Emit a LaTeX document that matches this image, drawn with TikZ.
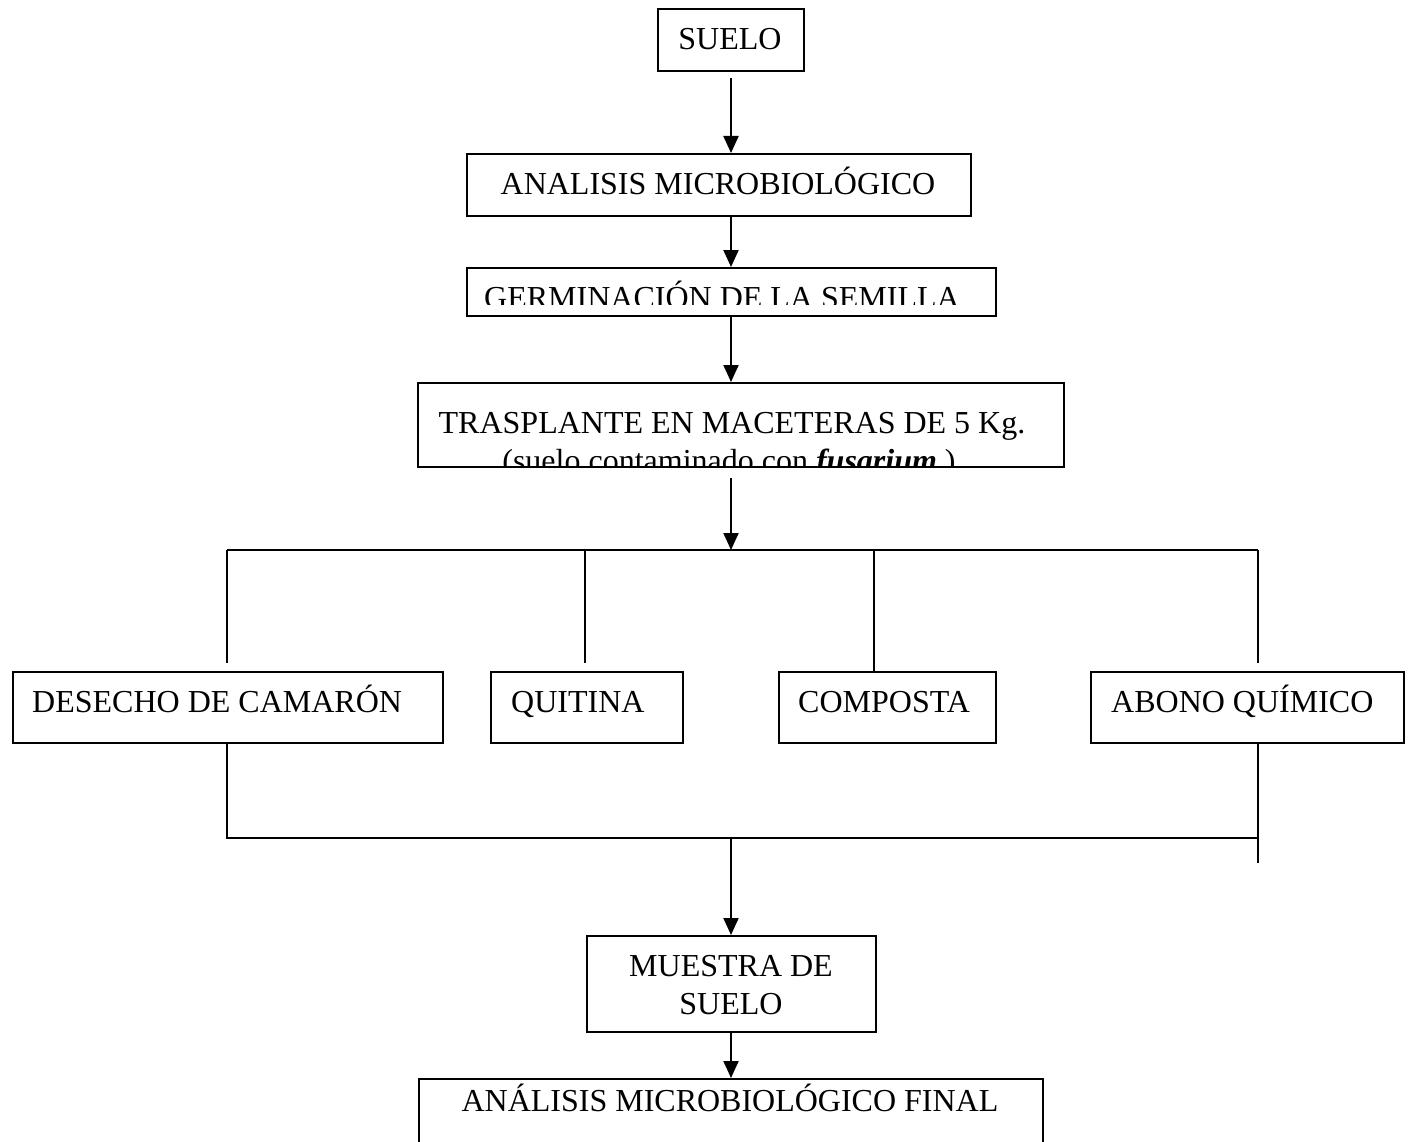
\documentclass[tikz,border=0pt]{standalone}
\usepackage{fontspec}
\setmainfont{Liberation Serif}
\usetikzlibrary{arrows.meta}
\begin{document}
\begin{tikzpicture}[x=1pt,y=-1pt,
  box/.style={draw, line width=2pt, inner sep=0pt, anchor=north west},
  lbl/.style={inner sep=0pt, anchor=base, font=\fontsize{32}{37}\selectfont},
  lblw/.style={lbl, anchor=base west},
  ln/.style={line width=2pt},
  arr/.style={ln, -{Triangle[length=17pt,width=15pt]}}]
\useasboundingbox (0,0) rectangle (1410,1142);
\fill[white] (0,0) rectangle (1410,1142);
\clip (0,0) rectangle (1410,1142);
% boxes
\node[box, minimum width=146pt, minimum height=62pt] (suelo) at (657,8) {};
\node[box, minimum width=504pt, minimum height=62pt] (analisis) at (466,153) {};
\node[box, minimum width=529pt, minimum height=48pt] (germ) at (466,267) {};
\node[box, minimum width=646pt, minimum height=84pt] (trasp) at (417,382) {};
\node[box, minimum width=430pt, minimum height=71pt] (desecho) at (12,671) {};
\node[box, minimum width=192pt, minimum height=71pt] (quitina) at (490,671) {};
\node[box, minimum width=217pt, minimum height=71pt] (composta) at (778,671) {};
\node[box, minimum width=313pt, minimum height=71pt] (abono) at (1090,671) {};
\node[box, minimum width=289pt, minimum height=96pt] (muestra) at (586,935) {};
\node[box, minimum width=624pt, minimum height=90pt] (final) at (418,1078) {};
% texts
\node[lbl] (t-suelo) at (730,50) {SUELO};
\node[lbl] (t-analisis) at (718,195) {ANALISIS MICROBIOLÓGICO};
\begin{scope}
\clip (466,267) rectangle (995,304);
\node[lbl] (t-germ) at (722,308) {GERMINACIÓN DE LA SEMILLA};
\end{scope}
\node[lbl] (t-trasp1) at (732,433) {TRASPLANTE EN MACETERAS DE 5 Kg.};
\begin{scope}
\clip (417,382) rectangle (1063,465);
\node[lbl] (t-trasp2) at (729,471) {(suelo contaminado con \textbf{\textit{fusarium}} )};
\end{scope}
\node[lblw] (t-desecho) at (32,712) {DESECHO DE CAMARÓN};
\node[lblw] (t-quitina) at (511,712) {QUITINA};
\node[lblw] (t-composta) at (798,712) {COMPOSTA};
\node[lblw] (t-abono) at (1111,712) {ABONO QUÍMICO};
\node[lbl] (t-muestra1) at (731,976) {MUESTRA DE};
\node[lbl] (t-muestra2) at (731,1014) {SUELO};
\node[lbl] (t-final) at (730,1111) {ANÁLISIS MICROBIOLÓGICO FINAL};
% connector coordinates
\coordinate (a1) at (731,78);
\coordinate (a4) at (731,478);
\coordinate (bl) at (227,550);
\coordinate (bq) at (585,550);
\coordinate (bc) at (874,550);
\coordinate (br) at (1258,550);
\coordinate (bm) at (731,550);
\coordinate (el) at (227,663);
\coordinate (eq) at (585,663);
\coordinate (er) at (1258,663);
\coordinate (cl) at (227,838);
\coordinate (cr) at (1258,838);
\coordinate (cm) at (731,838);
\coordinate (ce) at (1258,863);
% connectors
\draw[arr] (a1) -- (a1 |- analisis.north);
\draw[arr] (a1 |- analisis.south) -- (a1 |- germ.north);
\draw[arr] (a1 |- germ.south) -- (a1 |- trasp.north);
\draw[arr] (a4) -- (bm);
\draw[ln] (bl) -- (br);
\draw[ln] (bl) -- (el);
\draw[ln] (bq) -- (eq);
\draw[ln] (bc) -- (bc |- composta.north);
\draw[ln] (br) -- (er);
\draw[ln] (el |- desecho.south) -- (cl) -- (cr);
\draw[ln] (er |- abono.south) -- (ce);
\draw[arr] (cm) -- (cm |- muestra.north);
\draw[arr] (cm |- muestra.south) -- (cm |- final.north);
\end{tikzpicture}
\end{document}
